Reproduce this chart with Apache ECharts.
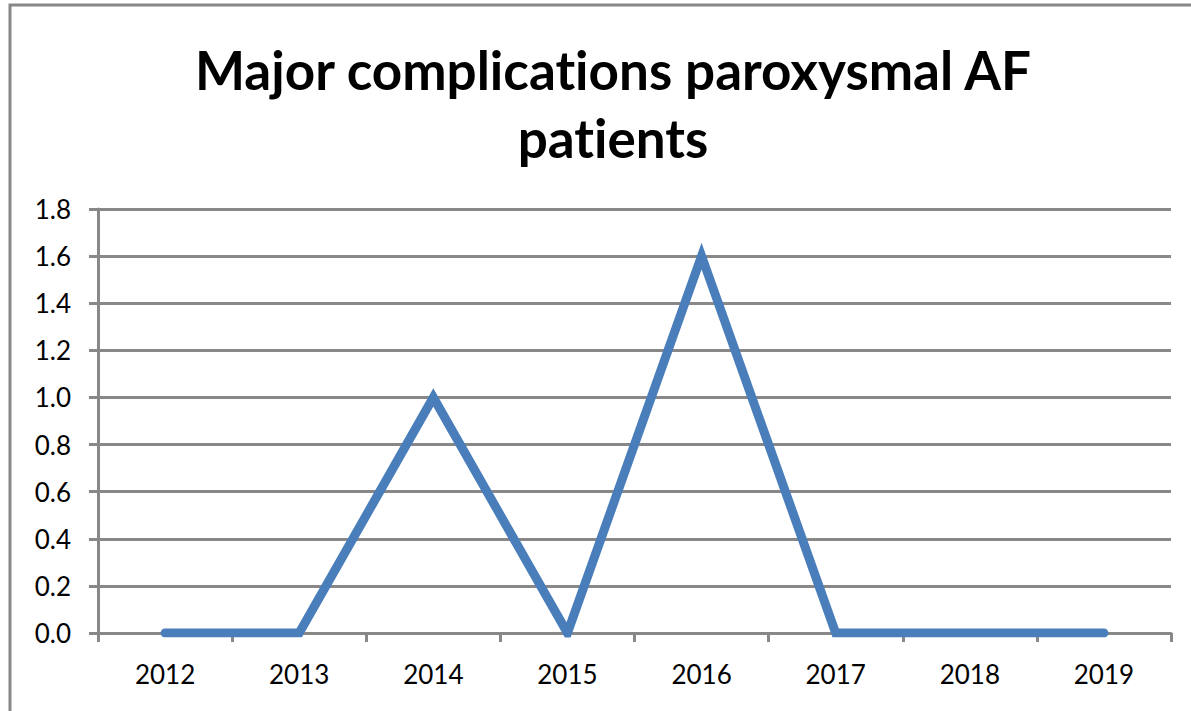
<!DOCTYPE html>
<html>
<head>
<meta charset="utf-8">
<script src="https://cdn.jsdelivr.net/npm/echarts@6/dist/echarts.min.js"></script>
<style>
  html, body { margin: 0; padding: 0; background: #fff; }
  #chart { width: 1191px; height: 711px; }
  #chart text { font-variant-ligatures: none; }
</style>
</head>
<body>
<div id="chart"></div>
<script>
const years = ['2012', '2013', '2014', '2015', '2016', '2017', '2018', '2019'];
const complications = [0, 0, 1.0, 0, 1.6, 0, 0, 0];
const titleText = 'Major complications paroxysmal AF\npatients';

const chart = echarts.init(document.getElementById('chart'), null, { renderer: 'svg' });

chart.setOption({
  animation: false,
  textStyle: { fontFamily: 'Lato, sans-serif' },
  title: {
    text: titleText,
    left: 608,
    top: 30,
    textAlign: 'center',
    textStyle: {
      fontFamily: 'Lato, sans-serif',
      fontSize: 53,
      fontWeight: 'bold',
      color: '#000',
      lineHeight: 68,
    },
  },
  graphic: [
    {
      type: 'rect',
      shape: { x: 10, y: 5, width: 1400, height: 900 },
      style: { fill: 'none', stroke: '#888', lineWidth: 3 },
      silent: true,
    },
  ],
  grid: { left: 98, right: 20, top: 209, bottom: 78 },
  xAxis: {
    type: 'category',
    data: years,
    boundaryGap: true,
    axisLine: { lineStyle: { color: '#888', width: 3 } },
    axisTick: { show: true, length: 9, interval: 0, lineStyle: { color: '#888', width: 3 } },
    axisLabel: { color: '#000', fontSize: 26, margin: 28 },
    splitLine: { show: false },
  },
  yAxis: {
    type: 'value',
    min: 0,
    max: 1.8,
    interval: 0.2,
    axisLine: { show: true, lineStyle: { color: '#888', width: 3 } },
    axisTick: { show: true, length: 9, lineStyle: { color: '#888', width: 3 } },
    axisLabel: {
      color: '#000',
      fontSize: 26,
      margin: 27,
      formatter: (v) => v.toFixed(1),
    },
    splitLine: { show: true, lineStyle: { color: '#888', width: 3 } },
  },
  series: [
    {
      type: 'line',
      data: complications,
      symbol: 'none',
      lineStyle: { color: '#4a7ebb', width: 9, cap: 'round', join: 'miter' },
    },
  ],
});
</script>
</body>
</html>
